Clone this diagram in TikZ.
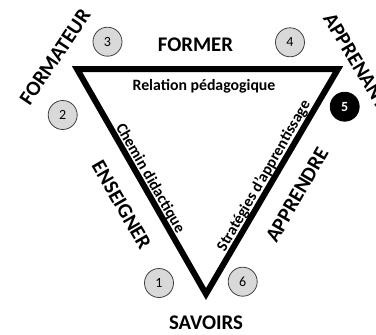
\documentclass[tikz,border=0pt]{standalone}
\usepackage{fontspec}
\setmainfont{Carlito}
\begin{document}
\begin{tikzpicture}[x=1pt,y=-1pt,
  big/.style={font=\bfseries\fontsize{20.8}{22}\selectfont, inner sep=0pt},
  small/.style={font=\bfseries\fontsize{15.8}{17}\selectfont, inner sep=0pt},
  num/.style={circle, draw=black!75, line width=0.8pt, fill=black!15, minimum size=29pt, inner sep=0pt, font=\fontsize{14}{15}\selectfont},
  numdark/.style={circle, draw=black, line width=0.8pt, fill=black, text=white, minimum size=29pt, inner sep=0pt, font=\bfseries\fontsize{14}{15}\selectfont},
  edge/.style={line width=6pt, line join=miter}]
\useasboundingbox (0,0) rectangle (376,335);
\coordinate (TL) at (77,69);
\coordinate (TR) at (338,69);
\coordinate (B) at (206,294);
\draw[edge] (TL) -- (TR) -- (B) -- cycle;
% labels
\node[big, anchor=base] (former) at (195.5,51) {FORMER};
\node[big, anchor=base] (savoirs) at (206,329) {SAVOIRS};
\node[small, anchor=base] (relation) at (204,90) {Relation pédagogique};
\node[big, rotate=56] (formateur) at (55,57) {FORMATEUR};
\node[big, rotate=-59] (apprenant) at (356,61) {APPRENANT};
\node[big, rotate=-60] (enseigner) at (121.5,205) {ENSEIGNER};
\node[big, rotate=60] (apprendre) at (297,195) {APPRENDRE};
\node[small, rotate=-60] (chemin) at (150,178.5) {Chemin didactique};
\node[small, rotate=60] (strat) at (264,176) {Stratégies d’apprentissage};
% numbered circles
\node[num] (n1) at (159,283) {1};
\node[num] (n2) at (62.7,115) {2};
\node[num] (n3) at (107.5,41.7) {3};
\node[num] (n4) at (290,42.3) {4};
\node[numdark] (n5) at (344.7,106.7) {5};
\node[num] (n6) at (242.7,281.7) {6};
\end{tikzpicture}
\end{document}
